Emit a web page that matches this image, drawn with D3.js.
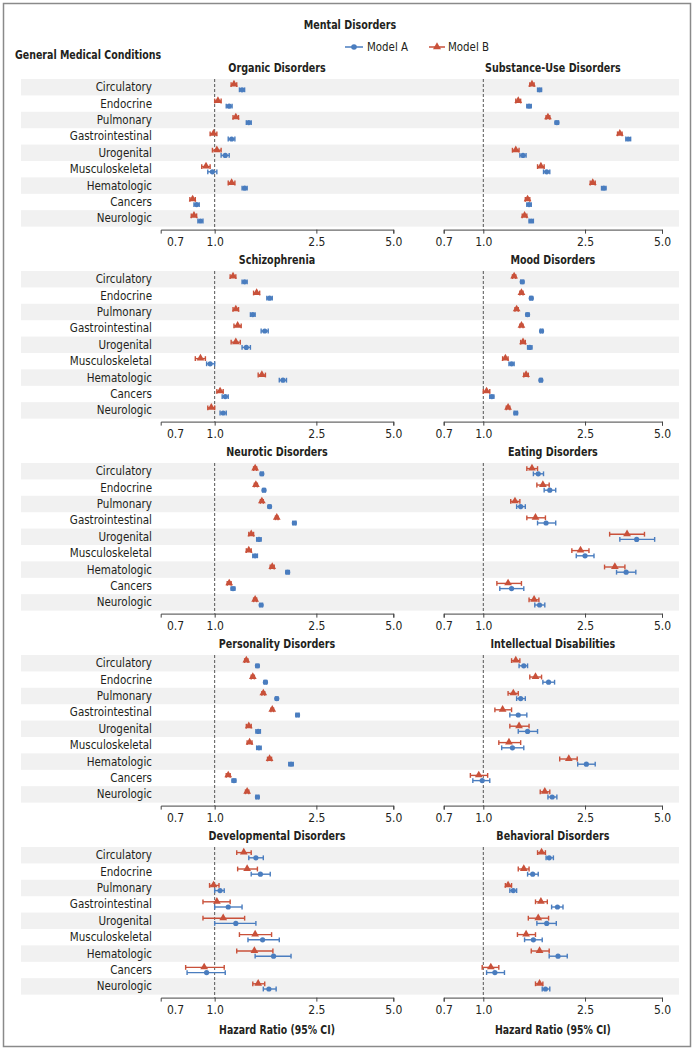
<!DOCTYPE html>
<html>
<head>
<meta charset="utf-8">
<script src="https://cdn.jsdelivr.net/npm/d3@7"></script>
<style>
body { margin:0; background:#fff; }
svg text { font-family:'Liberation Sans Narrow','DejaVu Sans Condensed','Open Sans',sans-serif; fill:#231f20; }
.domain, .tick line { stroke:#444; }
</style>
</head>
<body>
<div id="chart"></div>
<script>
let chart_width = 694;
let chart_height = 1050;

let conditions = ['Circulatory','Endocrine','Pulmonary','Gastrointestinal','Urogenital','Musculoskeletal','Hematologic','Cancers','Neurologic'];
let disorders = ['Organic Disorders','Substance-Use Disorders','Schizophrenia','Mood Disorders','Neurotic Disorders','Eating Disorders','Personality Disorders','Intellectual Disabilities','Developmental Disorders','Behavioral Disorders'];
let tick_values = [0.7,1.0,2.5,5.0];
let tick_labels = ['0.7','1.0','2.5','5.0'];

// [hazard ratio, lower, upper]
let organicA = [[1.28,1.25,1.31],[1.14,1.11,1.17],[1.36,1.33,1.39],[1.165,1.13,1.20],[1.10,1.06,1.14],[0.98,0.94,1.02],[1.31,1.28,1.34],[0.85,0.83,0.87],[0.88,0.86,0.90]];
let organicB = [[1.19,1.16,1.22],[1.03,1.00,1.06],[1.21,1.18,1.24],[0.99,0.96,1.02],[1.02,0.98,1.06],[0.925,0.89,0.96],[1.165,1.13,1.20],[0.82,0.80,0.84],[0.83,0.81,0.85]];
let substanceA = [[1.66,1.63,1.69],[1.51,1.48,1.54],[1.94,1.91,1.97],[3.69,3.61,3.77],[1.43,1.39,1.47],[1.77,1.72,1.82],[2.96,2.90,3.02],[1.51,1.48,1.54],[1.54,1.51,1.57]];
let substanceB = [[1.55,1.52,1.58],[1.37,1.34,1.40],[1.79,1.76,1.82],[3.42,3.35,3.49],[1.34,1.30,1.38],[1.68,1.63,1.73],[2.68,2.62,2.74],[1.49,1.46,1.52],[1.45,1.42,1.48]];
let schizoA = [[1.31,1.28,1.34],[1.64,1.60,1.68],[1.41,1.38,1.44],[1.57,1.52,1.62],[1.33,1.28,1.38],[0.96,0.93,1.00],[1.85,1.79,1.91],[1.10,1.07,1.13],[1.08,1.05,1.11]];
let schizoB = [[1.18,1.15,1.21],[1.46,1.42,1.50],[1.21,1.18,1.24],[1.23,1.19,1.27],[1.21,1.16,1.26],[0.88,0.84,0.92],[1.53,1.48,1.58],[1.05,1.02,1.08],[0.97,0.94,1.00]];
let moodA = [[1.42,1.40,1.44],[1.54,1.52,1.56],[1.49,1.47,1.51],[1.69,1.67,1.71],[1.52,1.49,1.55],[1.29,1.26,1.32],[1.68,1.66,1.70],[1.08,1.06,1.10],[1.34,1.32,1.36]];
let moodB = [[1.32,1.30,1.34],[1.41,1.39,1.43],[1.35,1.33,1.37],[1.41,1.39,1.43],[1.43,1.40,1.46],[1.22,1.19,1.25],[1.47,1.44,1.50],[1.03,1.00,1.06],[1.25,1.23,1.27]];
let neuroticA = [[1.53,1.51,1.55],[1.56,1.54,1.58],[1.64,1.62,1.66],[2.05,2.02,2.08],[1.49,1.46,1.52],[1.44,1.41,1.47],[1.93,1.90,1.96],[1.18,1.16,1.20],[1.52,1.50,1.54]];
let neuroticB = [[1.44,1.42,1.46],[1.45,1.43,1.47],[1.53,1.51,1.55],[1.75,1.73,1.77],[1.39,1.36,1.42],[1.36,1.33,1.39],[1.68,1.65,1.71],[1.14,1.12,1.16],[1.44,1.42,1.46]];
let eatingA = [[1.64,1.57,1.72],[1.82,1.73,1.92],[1.40,1.35,1.46],[1.76,1.63,1.92],[3.98,3.42,4.68],[2.50,2.31,2.71],[3.62,3.32,3.95],[1.29,1.16,1.44],[1.66,1.59,1.74]];
let eatingB = [[1.55,1.48,1.63],[1.71,1.62,1.81],[1.33,1.28,1.39],[1.60,1.48,1.75],[3.65,3.12,4.27],[2.40,2.22,2.59],[3.27,2.98,3.58],[1.25,1.13,1.41],[1.58,1.51,1.65]];
let personalityA = [[1.47,1.45,1.49],[1.58,1.56,1.60],[1.75,1.73,1.77],[2.11,2.08,2.14],[1.48,1.45,1.51],[1.49,1.46,1.52],[1.99,1.95,2.03],[1.19,1.17,1.21],[1.47,1.45,1.49]];
let personalityB = [[1.33,1.31,1.35],[1.41,1.39,1.43],[1.55,1.53,1.57],[1.68,1.66,1.70],[1.36,1.33,1.39],[1.37,1.34,1.40],[1.64,1.61,1.67],[1.13,1.11,1.15],[1.34,1.32,1.36]];
let intellectualA = [[1.44,1.38,1.49],[1.80,1.71,1.90],[1.40,1.35,1.46],[1.37,1.27,1.48],[1.49,1.37,1.63],[1.30,1.18,1.44],[2.53,2.34,2.74],[0.99,0.91,1.06],[1.86,1.79,1.94]];
let intellectualB = [[1.34,1.29,1.39],[1.60,1.52,1.69],[1.31,1.25,1.37],[1.19,1.11,1.29],[1.38,1.27,1.51],[1.26,1.15,1.40],[2.16,1.99,2.33],[0.96,0.89,1.04],[1.74,1.67,1.82]];
let developmentalA = [[1.45,1.36,1.55],[1.51,1.39,1.65],[1.05,1.00,1.09],[1.13,1.00,1.28],[1.21,1.00,1.45],[1.54,1.35,1.79],[1.70,1.44,1.99],[0.93,0.78,1.10],[1.63,1.55,1.74]];
let developmentalB = [[1.30,1.22,1.39],[1.34,1.23,1.47],[0.99,0.955,1.04],[1.02,0.90,1.15],[1.08,0.90,1.31],[1.44,1.25,1.67],[1.43,1.22,1.69],[0.91,0.77,1.09],[1.48,1.41,1.57]];
let behavioralA = [[1.81,1.76,1.88],[1.56,1.49,1.64],[1.31,1.27,1.35],[1.95,1.85,2.05],[1.77,1.62,1.93],[1.57,1.45,1.70],[1.96,1.81,2.13],[1.11,1.03,1.21],[1.75,1.70,1.82]];
let behavioralB = [[1.69,1.63,1.75],[1.44,1.37,1.51],[1.25,1.22,1.29],[1.68,1.60,1.78],[1.64,1.50,1.80],[1.47,1.36,1.60],[1.66,1.54,1.81],[1.07,0.99,1.15],[1.66,1.60,1.71]];

let modelA = [organicA,substanceA,schizoA,moodA,neuroticA,eatingA,personalityA,intellectualA,developmentalA,behavioralA];
let modelB = [organicB,substanceB,schizoB,moodB,neuroticB,eatingB,personalityB,intellectualB,developmentalB,behavioralB];

let colorA = '#4a7dbf';
let colorB = '#c9513a';

let svg = d3.select('#chart')
    .append('svg')
    .attr('width',chart_width)
    .attr('height',chart_height);

// the original uses a condensed face, so squeeze text horizontally
function addText(target, str, x, y, anchor, size, bold, sx){
    return target.append('text')
        .text(str)
        .attr('transform','translate('+x+','+y+') scale('+sx+',1)')
        .attr('text-anchor',anchor)
        .style('font-size',size+'px')
        .style('font-weight',bold ? 'bold' : 'normal');
}

svg.append('rect')
    .attr('x',3.5).attr('y',3.5)
    .attr('width',chart_width-7).attr('height',chart_height-7)
    .attr('fill','none')
    .attr('stroke','#8a8a8a')
    .attr('stroke-width',1.5);

addText(svg,'Mental Disorders',350,29,'middle',13,true,0.82);
addText(svg,'General Medical Conditions',15,59,'start',13,true,0.81);

// legend
let legend = svg.append('g').attr('transform','translate(0,47)');
legend.append('line').attr('x1',345).attr('x2',363).attr('y1',0).attr('y2',0)
    .attr('stroke',colorA).attr('stroke-width',1.5);
legend.append('circle').attr('cx',354).attr('cy',0).attr('r',2.8).attr('fill',colorA);
addText(legend,'Model A',367,4,'start',12,false,0.95);
legend.append('line').attr('x1',429).attr('x2',445).attr('y1',0).attr('y2',0)
    .attr('stroke',colorB).attr('stroke-width',1.5);
legend.append('path').attr('d',d3.symbol(d3.symbolTriangle,28)()).attr('transform','translate(437,0)').attr('fill',colorB);
addText(legend,'Model B',448,4,'start',12,false,0.95);

let row_h = 16.4;
let panel_gap = 192;
let band_top0 = 79;

let yScale = d3.scaleBand().domain(conditions).range([0,row_h*conditions.length]);

let leftScale = d3.scaleLog().domain([0.615,5]).range([160.7,393.3]);
let rightScale = d3.scaleLog().domain([0.7,5]).range([443.7,662]);

for(let p=0;p<5;p++){
    let top = band_top0 + p*panel_gap;
    let g = svg.append('g').attr('transform','translate(0,'+top+')');

    // alternating bands across both columns
    g.selectAll('rect.band')
        .data(conditions.filter((d,i)=>i%2===0))
        .enter()
        .append('rect')
        .attr('class','band')
        .attr('x',21)
        .attr('width',658)
        .attr('y',d=>yScale(d))
        .attr('height',yScale.bandwidth())
        .attr('fill','#f1f1f1');

    conditions.forEach(function(d){
        addText(g,d,152,yScale(d)+yScale.bandwidth()/2+4,'end',12,false,0.96);
    });

    [0,1].forEach(function(c){
        let idx = p*2+c;
        let xScale = c===0 ? leftScale : rightScale;
        let pg = g.append('g');
        let axisY = row_h*conditions.length + 3;
        let mid = (xScale.range()[0]+xScale.range()[1])/2;

        addText(pg,disorders[idx],mid,-7,'middle',13,true,0.82);

        pg.append('line')
            .attr('x1',xScale(1)).attr('x2',xScale(1))
            .attr('y1',0).attr('y2',axisY)
            .attr('stroke','#555')
            .attr('stroke-width',1)
            .attr('stroke-dasharray','3,2');

        let axis = d3.axisBottom(xScale)
            .tickValues(tick_values)
            .tickFormat((d,i)=>tick_labels[i])
            .tickSize(4)
            .tickSizeOuter(4);
        let ag = pg.append('g')
            .attr('transform','translate(0,'+axisY+')')
            .call(axis);
        ag.selectAll('.tick text')
            .style('font-size','12px')
            .style('font-family',"'Liberation Sans Narrow','DejaVu Sans Condensed',sans-serif")
            .attr('fill','#231f20')
            .attr('y',8);
        if(c===0){
            ag.selectAll('.tick').filter(d=>d===0.7).select('line').remove();
        }

        if(p===4){
            addText(pg,'Hazard Ratio (95% CI)',mid,axisY+36,'middle',13,true,0.8);
        }

        drawSeries(pg, modelB[idx], xScale, -2.6, colorB, 'triangle');
        drawSeries(pg, modelA[idx], xScale, 2.6, colorA, 'circle');
    });
}

function drawSeries(target, data, xScale, offset, color, shape){
    let s = target.append('g')
        .selectAll('g')
        .data(data)
        .enter()
        .append('g')
        .attr('transform',(d,i)=>'translate(0,'+(yScale(conditions[i])+yScale.bandwidth()/2+offset)+')');

    s.append('line')
        .attr('x1',d=>xScale(d[1]))
        .attr('x2',d=>xScale(d[2]))
        .attr('stroke',color)
        .attr('stroke-width',1.4);
    s.append('line')
        .attr('x1',d=>xScale(d[1])).attr('x2',d=>xScale(d[1]))
        .attr('y1',-2.4).attr('y2',2.4)
        .attr('stroke',color).attr('stroke-width',1.4);
    s.append('line')
        .attr('x1',d=>xScale(d[2])).attr('x2',d=>xScale(d[2]))
        .attr('y1',-2.4).attr('y2',2.4)
        .attr('stroke',color).attr('stroke-width',1.4);

    if(shape==='circle'){
        s.append('circle')
            .attr('cx',d=>xScale(d[0]))
            .attr('r',2.6)
            .attr('fill',color);
    }
    else{
        s.append('path')
            .attr('d',d3.symbol(d3.symbolTriangle,26)())
            .attr('transform',d=>'translate('+xScale(d[0])+',-0.3)')
            .attr('fill',color);
    }
}
</script>
</body>
</html>
